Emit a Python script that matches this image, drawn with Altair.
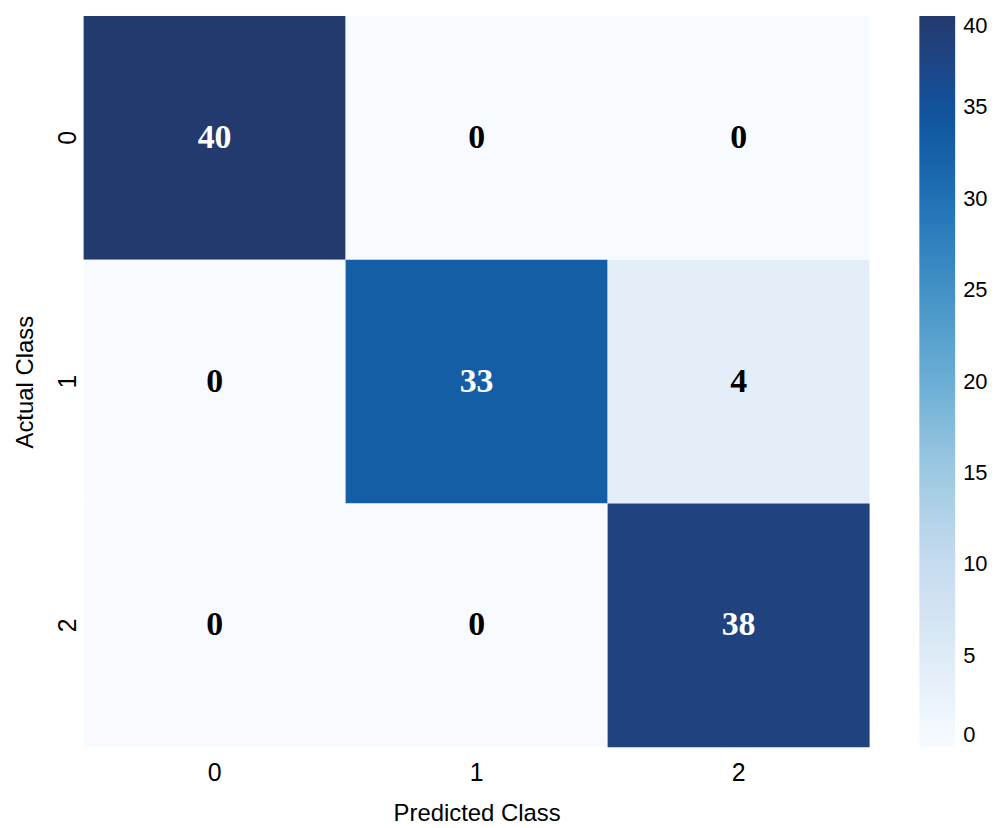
import altair as alt
import pandas as pd

classes = ["0", "1", "2"]
matrix = [
    [40, 0, 0],
    [0, 33, 4],
    [0, 0, 38],
]
legend_ticks = [0, 5, 10, 15, 20, 25, 30, 35, 40]
color_stops = ["#f7fbff", "#deebf7", "#c6dbef", "#9ecae1", "#6baed6",
               "#4292c6", "#2171b5", "#0c529c", "#233a6e"]

rows = []
for i, actual in enumerate(classes):
    for j, pred in enumerate(classes):
        rows.append({"actual": actual, "predicted": pred, "value": matrix[i][j]})
df = pd.DataFrame(rows)

sans = "Liberation Sans"

base = alt.Chart(df).encode(
    x=alt.X("predicted:O", sort=classes, title="Predicted Class",
            scale=alt.Scale(paddingInner=0, paddingOuter=0),
            axis=alt.Axis(labelAngle=0, domain=False, ticks=False, labelPadding=13,
                          titlePadding=17, labelFontSize=25, titleFontSize=24,
                          labelFont=sans, titleFont=sans, titleFontWeight="normal",
                          labelColor="black", titleColor="black")),
    y=alt.Y("actual:O", sort=classes, title="Actual Class",
            scale=alt.Scale(paddingInner=0, paddingOuter=0),
            axis=alt.Axis(labelAngle=270, domain=False, ticks=False, labelPadding=16,
                          titlePadding=18, labelFontSize=25, titleFontSize=24,
                          labelFont=sans, titleFont=sans, titleFontWeight="normal",
                          labelBaseline="middle", labelAlign="center",
                          labelColor="black", titleColor="black")),
)

heat = base.mark_rect().encode(
    color=alt.Color("value:Q",
                    scale=alt.Scale(domain=legend_ticks, range=color_stops),
                    legend=alt.Legend(title=None, values=legend_ticks,
                                      gradientLength=735, gradientThickness=36,
                                      gradientStrokeWidth=0, labelFontSize=22,
                                      labelFont=sans, labelColor="black",
                                      offset=50, padding=0, labelOffset=8,
                                      direction="vertical"))
)

text = base.mark_text(font="Liberation Serif", fontWeight="bold", fontSize=34).encode(
    text="value:Q",
    color=alt.condition("datum.value > 20", alt.value("white"), alt.value("black")),
)

chart = (heat + text).properties(
    width=790, height=735, padding={"left": 6, "top": 6, "right": 0, "bottom": 0}
).configure_view(stroke=None)

chart.save("out.html", embed_options={"renderer": "svg", "actions": False})
